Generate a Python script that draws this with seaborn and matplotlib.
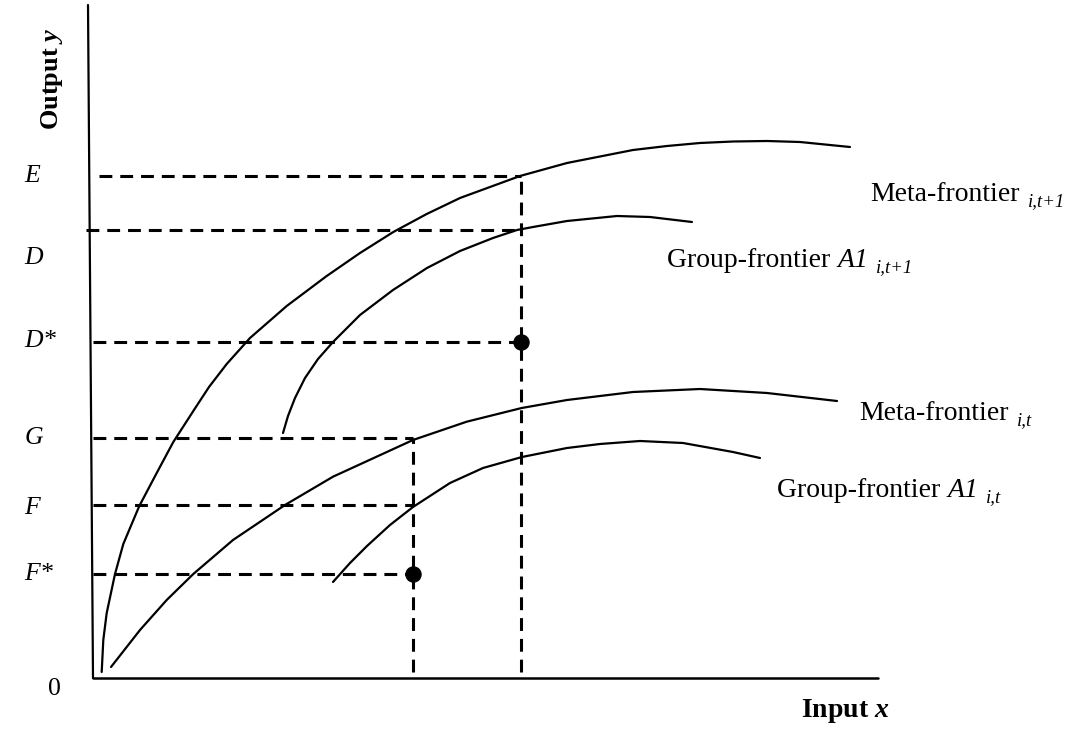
import pandas as pd
import seaborn as sns
import matplotlib.pyplot as plt
from matplotlib import transforms

# frontier curves (x = input, y = output, origin at axes corner)
meta_t1_x = [8.7, 10.3, 13.7, 22, 30.3, 46.3, 63.7, 80.3, 100.3, 116, 133.7, 157, 193.7, 233.7, 267, 300.3,
             333.7, 367, 427, 474, 540, 574, 607, 640, 674, 707, 757]
meta_t1_y = [6, 38, 65, 104, 134, 172, 205, 236, 267, 291, 314, 340, 372, 402, 425, 446,
             464, 480, 502, 515, 528, 532, 535, 536.5, 537, 536, 531]

group_t1_x = [190, 195, 202, 212, 225, 240, 267, 300, 334, 367, 400, 424, 440, 474, 524, 557, 599]
group_t1_y = [245, 262, 280, 300, 319, 336, 363, 388, 410, 427, 440, 448, 451, 457, 462, 461, 456]

meta_t_x = [18, 47, 73.7, 100.3, 140, 192, 240, 320, 373.7, 428.7, 474, 540, 607, 674, 744]
meta_t_y = [11, 48, 78, 104, 138, 173, 201.3, 238, 256.3, 270, 278, 286, 289, 285, 277]

group_t_x = [240, 257, 274, 297, 320, 357, 390, 429, 474, 507, 547, 590, 640, 667]
group_t_y = [96, 115, 132, 153, 171, 195, 210, 221, 230, 234, 237, 235, 226, 220]

# reference levels on the output axis
level_names = ["E", "D", "D*", "G", "F", "F*"]
level_y = [502, 448, 336, 240, 173, 104]
level_x_end = [428, 428, 428, 320, 320, 320]
level_x_start = [6, -7, 0, 0, 0, 0]
label_y = [502, 420, 337, 240, 170, 104]

# input levels and observed points
input_x = [320, 428]
input_y_top = [240, 502]
points_x = [320, 428]
points_y = [104, 336]

sns.set_style("white")
plt.rcParams["font.family"] = ["Liberation Serif", "DejaVu Serif"]
plt.rcParams["text.color"] = "black"
plt.rcParams["mathtext.fontset"] = "custom"
plt.rcParams["mathtext.rm"] = "Liberation Serif"
plt.rcParams["mathtext.it"] = "Liberation Serif:italic"
plt.rcParams["mathtext.bf"] = "Liberation Serif:bold"
plt.rcParams["mathtext.bfit"] = "Liberation Serif:italic:bold"

fig = plt.figure(figsize=(10.77, 7.31), dpi=100)
ax = fig.add_axes([0, 0, 1, 1])
ax.set_xlim(-93, 984)
ax.set_ylim(-53, 678)
ax.axis("off")

curves = [(meta_t1_x, meta_t1_y), (group_t1_x, group_t1_y), (meta_t_x, meta_t_y), (group_t_x, group_t_y)]
for cx, cy in curves:
    df = pd.DataFrame({"x": cx, "y": cy})
    sns.lineplot(data=df, x="x", y="y", ax=ax, color="black", lw=1.6, sort=False, estimator=None)

dash = (0, (4.2, 2.6))
for y, x0, x1 in zip(level_y, level_x_start, level_x_end):
    ax.plot([x0, x1], [y, y], color="black", lw=2.2, linestyle=dash)
for x, yt in zip(input_x, input_y_top):
    ax.plot([x, x], [6, yt], color="black", lw=2.2, linestyle=dash)

sns.scatterplot(x=points_x, y=points_y, ax=ax, color="black", s=120, zorder=5, edgecolor="black")

# axes
ax.plot([-5, 0], [673, 0], color="black", lw=1.6)
ax.plot([0, 785], [0, 0], color="black", lw=1.8)

for name, y in zip(level_names, label_y):
    txt = f"${name[0]}$" + ("*" if name.endswith("*") else "")
    ax.text(-69, y, txt, fontsize=18.5, style="italic", va="center", ha="left")
ax.text(-45, -11, "0", fontsize=18.5, va="center", ha="left")

ax.text(-41, 599, r"Output $\mathbfit{y}$", fontsize=19, fontweight="bold", rotation=90, va="center", ha="center")
ax.text(752, -33, r"Input $\mathbfit{x}$", fontsize=20, fontweight="bold", va="center", ha="center")

renderer = fig.canvas.get_renderer()


def label(x, y, pieces):
    # pieces: (text, size, style, dx before, dy) placed one after another
    off = 0
    for s, size, style, gap, dy in pieces:
        off += gap
        tr = transforms.offset_copy(ax.transData, fig=fig, x=off, y=-dy, units="dots")
        t = ax.text(x, y, s, fontsize=size, style=style, va="baseline", ha="left", transform=tr)
        off += t.get_window_extent(renderer).width


label(777, 477, [("Meta-frontier", 20, "normal", 0, 0), ("i,t+1", 13.5, "italic", 8, 5)])
label(574, 411, [("Group-frontier ", 20, "normal", 0, 0), ("A1", 20, "italic", 0, 0),
                 ("i,t+1", 13.5, "italic", 8, 5)])
label(766, 258, [("Meta-frontier", 20, "normal", 0, 0), ("i,t", 13.5, "italic", 8, 5)])
label(684, 181, [("Group-frontier ", 20, "normal", 0, 0), ("A1", 20, "italic", 0, 0),
                 ("i,t", 13.5, "italic", 8, 5)])

fig.savefig("out.png", dpi=100)
